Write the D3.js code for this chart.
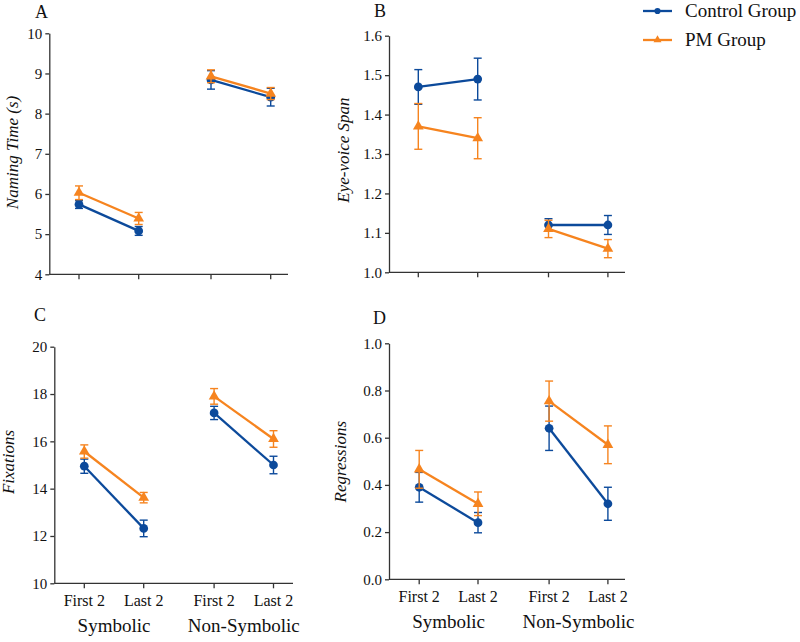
<!DOCTYPE html>
<html>
<head>
<meta charset="utf-8">
<script src="https://cdn.jsdelivr.net/npm/d3@7/dist/d3.min.js"></script>
<style>
  html, body { margin: 0; padding: 0; background: #fff; }
</style>
</head>
<body>
<svg id="chart" width="800" height="642"></svg>
<script>
// ---------------- DATA ----------------
const groups = ["Symbolic", "Non-Symbolic"];
const conditions = ["First 2", "Last 2"];
const seriesNames = ["Control Group", "PM Group"];

// Panel A: Naming Time (s)  (order: Sym First, Sym Last, NonSym First, NonSym Last)
const namingControl    = [5.74, 5.08, 8.84, 8.41];
const namingControlErr = [0.10, 0.11, 0.23, 0.22];
const namingPM         = [6.03, 5.39, 8.93, 8.50];
const namingPMErr      = [0.17, 0.15, 0.16, 0.15];
const namingTicks      = [4, 5, 6, 7, 8, 9, 10];

// Panel B: Eye-voice Span
const evsControl    = [1.47, 1.49, 1.12, 1.12];
const evsControlErr = [0.044, 0.053, 0.016, 0.024];
const evsPM         = [1.37, 1.34, 1.11, 1.06];
const evsPMErr      = [0.058, 0.052, 0.022, 0.023];
const evsTicks      = [1.0, 1.1, 1.2, 1.3, 1.4, 1.5, 1.6];

// Panel C: Fixations
const fixControl    = [14.95, 12.32, 17.20, 15.00];
const fixControlErr = [0.30, 0.35, 0.28, 0.37];
const fixPM         = [15.57, 13.62, 17.90, 16.10];
const fixPMErr      = [0.28, 0.22, 0.33, 0.35];
const fixTicks      = [10, 12, 14, 16, 18, 20];

// Panel D: Regressions
const regControl    = [0.39, 0.24, 0.64, 0.32];
const regControlErr = [0.063, 0.043, 0.094, 0.07];
const regPM         = [0.466, 0.32, 0.755, 0.57];
const regPMErr      = [0.08, 0.05, 0.085, 0.08];
const regTicks      = [0.0, 0.2, 0.4, 0.6, 0.8, 1.0];

// ---------------- STYLE / LAYOUT ----------------
const FONT = "'Liberation Serif'";
const colors = { "Control Group": "#0c4a9b", "PM Group": "#f6841f" };
const axisColor = "#333";

const panels = [
  { letter: "A", yLabel: "Naming Time (s)", ticks: namingTicks, fmt: d3.format("d"),
    series: [[namingControl, namingControlErr], [namingPM, namingPMErr]],
    layout: { ax: 49.3, end: 288, top: 33.3, bot: 274.3, c0: 108.85, c1: 240.85, half: 29.85,
              lx: 35, ly: 18, tx: 18, ty: 152.5 }, showX: false },
  { letter: "B", yLabel: "Eye-voice Span", ticks: evsTicks, fmt: d3.format(".1f"),
    series: [[evsControl, evsControlErr], [evsPM, evsPMErr]],
    layout: { ax: 389, end: 625, top: 35.7, bot: 272.3, c0: 448, c1: 578.2, half: 29.7,
              lx: 374, ly: 17, tx: 348.5, ty: 150 }, showX: false },
  { letter: "C", yLabel: "Fixations", ticks: fixTicks, fmt: d3.format("d"),
    series: [[fixControl, fixControlErr], [fixPM, fixPMErr]],
    layout: { ax: 54.3, end: 293, top: 346.7, bot: 583.3, c0: 114, c1: 243.8, half: 29.7,
              lx: 34, ly: 321, tx: 14, ty: 462 }, showX: true },
  { letter: "D", yLabel: "Regressions", ticks: regTicks, fmt: d3.format(".1f"),
    series: [[regControl, regControlErr], [regPM, regPMErr]],
    layout: { ax: 389, end: 625, top: 343.3, bot: 579.3, c0: 448.6, c1: 578.5, half: 29.4,
              lx: 373, ly: 324, tx: 345.5, ty: 461.7 }, showX: true }
];

const svg = d3.select("#chart");
const root = svg.append("g").attr("font-family", "Liberation Serif");

function styleText(sel, size) {
  return sel.style("font-family", FONT).attr("font-size", size).attr("fill", "#111");
}

panels.forEach(p => {
  const L = p.layout;
  const g = root.append("g");
  const y = d3.scaleLinear().domain(d3.extent(p.ticks)).range([L.bot, L.top]);
  const xg = d3.scalePoint().domain(groups).range([L.c0, L.c1]);
  const xc = d3.scalePoint().domain(conditions).range([-L.half, L.half]);
  const points = [];
  groups.forEach(gr => conditions.forEach(c => points.push({ group: gr, cond: c, x: xg(gr) + xc(c) })));

  // Y axis
  const yAxis = d3.axisLeft(y).tickValues(p.ticks).tickFormat(p.fmt).tickSize(4).tickPadding(3).tickSizeOuter(0);
  const ya = g.append("g").attr("transform", `translate(${L.ax},0)`).call(yAxis)
    .attr("font-family", "Liberation Serif").attr("font-size", 15);
  ya.select(".domain").attr("stroke", axisColor).attr("stroke-width", 1.3);
  ya.selectAll(".tick line").attr("stroke", axisColor).attr("stroke-width", 1.3);
  styleText(ya.selectAll(".tick text"), 15);

  // X axis line + ticks
  g.append("line").attr("x1", L.ax).attr("x2", L.end).attr("y1", L.bot).attr("y2", L.bot)
    .attr("stroke", axisColor).attr("stroke-width", 1.3);
  g.selectAll(".xt").data(points).enter().append("line")
    .attr("x1", d => d.x).attr("x2", d => d.x).attr("y1", L.bot).attr("y2", L.bot + 5)
    .attr("stroke", axisColor).attr("stroke-width", 1.3);

  if (p.showX) {
    styleText(g.selectAll(".xl").data(points).enter().append("text")
      .attr("x", d => d.x).attr("y", L.bot + 22.5).attr("text-anchor", "middle")
      .text(d => d.cond), 16);
    styleText(g.selectAll(".gl").data(groups).enter().append("text")
      .attr("x", d => xg(d)).attr("y", L.bot + 49).attr("text-anchor", "middle")
      .text(d => d), 19);
  }

  // Panel letter
  styleText(g.append("text").attr("x", L.lx).attr("y", L.ly).text(p.letter), 18);
  // Y title
  styleText(g.append("text").attr("transform", `translate(${L.tx},${L.ty}) rotate(-90)`)
    .attr("text-anchor", "middle").text(p.yLabel), 17).attr("font-style", "italic");

  // Series
  p.series.forEach((s, si) => {
    const name = seriesNames[si];
    const col = colors[name];
    const vals = s[0], errs = s[1];
    const data = points.map((pt, i) => ({ ...pt, v: vals[i], e: errs[i] }));
    const sg = g.append("g");
    data.forEach(d => {
      sg.append("line").attr("x1", d.x).attr("x2", d.x).attr("y1", y(d.v - d.e)).attr("y2", y(d.v + d.e))
        .attr("stroke", col).attr("stroke-width", 1.4);
      [d.v - d.e, d.v + d.e].forEach(v => {
        sg.append("line").attr("x1", d.x - 4).attr("x2", d.x + 4).attr("y1", y(v)).attr("y2", y(v))
          .attr("stroke", col).attr("stroke-width", 1.4);
      });
    });
    const line = d3.line().x(d => d.x).y(d => y(d.v));
    groups.forEach(gr => {
      sg.append("path").datum(data.filter(d => d.group === gr)).attr("d", line)
        .attr("fill", "none").attr("stroke", col).attr("stroke-width", 2.3);
    });
    const sym = d3.symbol().type(si === 0 ? d3.symbolCircle : d3.symbolTriangle).size(si === 0 ? 60 : 50);
    sg.selectAll(".m").data(data).enter().append("path")
      .attr("d", sym).attr("transform", d => `translate(${d.x},${y(d.v)})`).attr("fill", col);
  });
});

// Legend
const legendRows = [{ name: seriesNames[0], y: 11 }, { name: seriesNames[1], y: 40 }];
const lg = root.append("g");
legendRows.forEach((r, i) => {
  const col = colors[r.name];
  lg.append("line").attr("x1", 643).attr("x2", 672).attr("y1", r.y).attr("y2", r.y)
    .attr("stroke", col).attr("stroke-width", 2.3);
  lg.append("path").attr("d", d3.symbol().type(i === 0 ? d3.symbolCircle : d3.symbolTriangle).size(i === 0 ? 30 : 28)())
    .attr("transform", `translate(657.5,${r.y})`).attr("fill", col);
  styleText(lg.append("text").attr("x", 685).attr("y", r.y + 6).text(r.name), 19);
});
</script>
</body>
</html>
